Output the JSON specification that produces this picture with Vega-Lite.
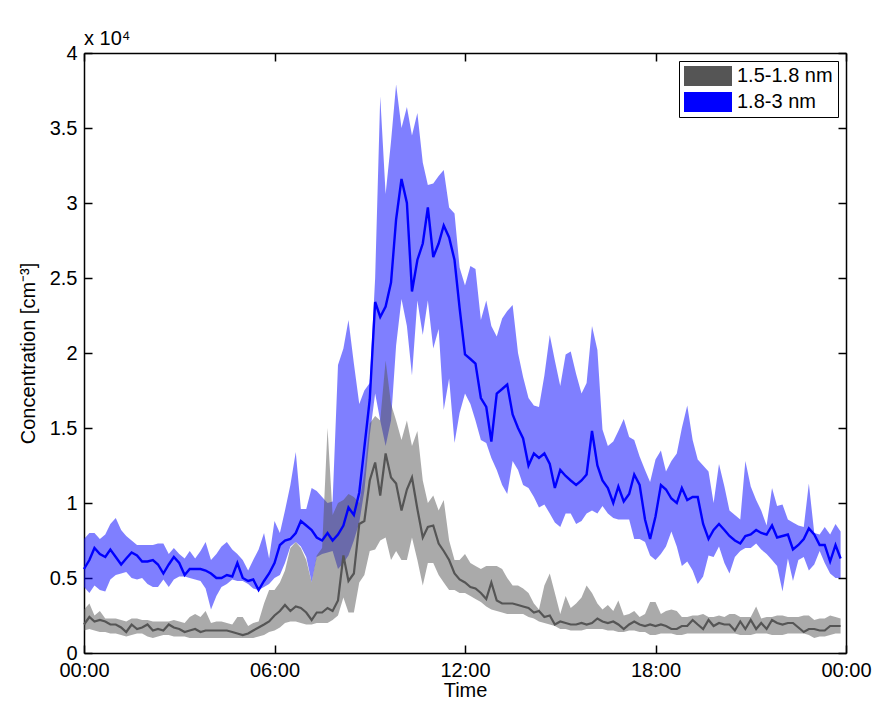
{
"$schema": "https://vega.github.io/schema/vega-lite/v6.json",
"width": 762, "height": 600,
"autosize": "none",
"padding": {"left": 84, "top": 53, "right": 29, "bottom": 49},
"background": "white",
"config": {
  "font": "Liberation Sans",
  "view": {"stroke": null},
  "axis": {"domainColor": "black", "domainWidth": 1.5, "tickColor": "black", "tickWidth": 1.5, "tickSize": -8, "labelFontSize": 20, "labelColor": "black", "labelPadding": 15, "labelFlush": false, "titleFontSize": 20, "titleFontWeight": "normal", "titleColor": "black", "grid": false},
  "legend": {"orient": "top-right", "offset": 8, "strokeColor": "black", "fillColor": "white", "padding": 5, "labelFontSize": 20, "labelColor": "black", "symbolType": "M-1,-1H3.8V1H-1Z", "symbolSize": 400, "symbolOpacity": 1, "symbolStrokeWidth": 0, "rowPadding": 6, "labelOffset": 33}
},
"title": {"text": "x 10⁴", "anchor": "start", "frame": "group", "fontSize": 20, "fontWeight": "normal", "color": "black", "offset": -6},
"data": {"values": [
{"t":0,"bm":5600,"bu":7600,"bl":4400,"gm":1900,"gu":2900,"gl":1500},
{"t":0.17,"bm":6200,"bu":8000,"bl":4000,"gm":2400,"gu":3300,"gl":1600},
{"t":0.33,"bm":7000,"bu":8000,"bl":4500,"gm":2100,"gu":2500,"gl":1500},
{"t":0.5,"bm":6600,"bu":7600,"bl":4200,"gm":2200,"gu":2800,"gl":1400},
{"t":0.67,"bm":6400,"bu":7900,"bl":4100,"gm":2100,"gu":2300,"gl":1400},
{"t":0.83,"bm":6900,"bu":8600,"bl":4900,"gm":1900,"gu":2300,"gl":1300},
{"t":1,"bm":6400,"bu":9000,"bl":5200,"gm":1900,"gu":2300,"gl":1300},
{"t":1.17,"bm":5900,"bu":8200,"bl":5300,"gm":1700,"gu":2200,"gl":1200},
{"t":1.33,"bm":6300,"bu":7800,"bl":5400,"gm":1400,"gu":2100,"gl":1100},
{"t":1.5,"bm":6700,"bu":7500,"bl":5000,"gm":1900,"gu":2300,"gl":1200},
{"t":1.67,"bm":6500,"bu":7200,"bl":4900,"gm":1600,"gu":2300,"gl":1300},
{"t":1.83,"bm":6100,"bu":7200,"bl":5000,"gm":1700,"gu":2200,"gl":1300},
{"t":2,"bm":6100,"bu":7200,"bl":4600,"gm":1900,"gu":2200,"gl":1100},
{"t":2.17,"bm":6200,"bu":7200,"bl":4400,"gm":1500,"gu":2100,"gl":1000},
{"t":2.33,"bm":5900,"bu":7300,"bl":4400,"gm":1600,"gu":2100,"gl":1100},
{"t":2.5,"bm":5300,"bu":7300,"bl":4900,"gm":1500,"gu":2100,"gl":1200},
{"t":2.67,"bm":5900,"bu":6600,"bl":4400,"gm":1900,"gu":2100,"gl":1200},
{"t":2.83,"bm":6400,"bu":7000,"bl":4900,"gm":1700,"gu":2200,"gl":1100},
{"t":3,"bm":6000,"bu":6600,"bl":5100,"gm":1600,"gu":2100,"gl":1100},
{"t":3.17,"bm":5200,"bu":6300,"bl":5100,"gm":1400,"gu":2000,"gl":1100},
{"t":3.33,"bm":5600,"bu":6800,"bl":5000,"gm":1500,"gu":2400,"gl":1000},
{"t":3.5,"bm":5600,"bu":6300,"bl":4900,"gm":1600,"gu":2600,"gl":1000},
{"t":3.67,"bm":5600,"bu":6800,"bl":4800,"gm":1400,"gu":2400,"gl":1000},
{"t":3.83,"bm":5500,"bu":7400,"bl":4300,"gm":1500,"gu":2800,"gl":1000},
{"t":4,"bm":5300,"bu":6200,"bl":2900,"gm":1500,"gu":2000,"gl":1000},
{"t":4.17,"bm":5000,"bu":6600,"bl":3800,"gm":1500,"gu":2100,"gl":1000},
{"t":4.33,"bm":5000,"bu":7100,"bl":4400,"gm":1500,"gu":2100,"gl":1000},
{"t":4.5,"bm":5200,"bu":7400,"bl":4600,"gm":1500,"gu":2000,"gl":1000},
{"t":4.67,"bm":5100,"bu":6900,"bl":4900,"gm":1400,"gu":1900,"gl":1000},
{"t":4.83,"bm":6000,"bu":6600,"bl":4800,"gm":1300,"gu":2400,"gl":1000},
{"t":5,"bm":5000,"bu":6200,"bl":4800,"gm":1200,"gu":2400,"gl":1000},
{"t":5.17,"bm":4800,"bu":5500,"bl":4600,"gm":1300,"gu":1800,"gl":1000},
{"t":5.33,"bm":4900,"bu":6200,"bl":4300,"gm":1500,"gu":2000,"gl":1000},
{"t":5.5,"bm":4200,"bu":6900,"bl":4200,"gm":1700,"gu":2100,"gl":1100},
{"t":5.67,"bm":4800,"bu":8000,"bl":4400,"gm":1900,"gu":3300,"gl":1200},
{"t":5.83,"bm":5300,"bu":6300,"bl":4600,"gm":2100,"gu":4200,"gl":1400},
{"t":6,"bm":6000,"bu":8800,"bl":5000,"gm":2500,"gu":4200,"gl":1500},
{"t":6.17,"bm":7200,"bu":8000,"bl":5200,"gm":2800,"gu":4700,"gl":1700},
{"t":6.33,"bm":7500,"bu":9500,"bl":6000,"gm":3200,"gu":5500,"gl":2000},
{"t":6.5,"bm":7600,"bu":11200,"bl":7100,"gm":2800,"gu":7000,"gl":2100},
{"t":6.67,"bm":8000,"bu":13400,"bl":7400,"gm":3100,"gu":7400,"gl":2100},
{"t":6.83,"bm":8800,"bu":9600,"bl":7100,"gm":3000,"gu":7000,"gl":2000},
{"t":7,"bm":8500,"bu":9600,"bl":6400,"gm":2700,"gu":6200,"gl":1900},
{"t":7.17,"bm":8200,"bu":11000,"bl":4700,"gm":2200,"gu":4700,"gl":1900},
{"t":7.33,"bm":7700,"bu":10800,"bl":6400,"gm":2700,"gu":6500,"gl":2000},
{"t":7.5,"bm":7500,"bu":10400,"bl":6600,"gm":2700,"gu":7000,"gl":2000},
{"t":7.67,"bm":8000,"bu":10000,"bl":6700,"gm":3000,"gu":15000,"gl":2000},
{"t":7.83,"bm":7500,"bu":10100,"bl":6800,"gm":2800,"gu":9200,"gl":2200},
{"t":8,"bm":7900,"bu":19200,"bl":5600,"gm":3500,"gu":10000,"gl":2500},
{"t":8.17,"bm":8500,"bu":20300,"bl":6000,"gm":6500,"gu":10200,"gl":3700},
{"t":8.33,"bm":9700,"bu":22200,"bl":6500,"gm":4800,"gu":10600,"gl":2700},
{"t":8.5,"bm":9200,"bu":19300,"bl":7500,"gm":5300,"gu":10400,"gl":2700},
{"t":8.67,"bm":10700,"bu":16600,"bl":8700,"gm":8600,"gu":10000,"gl":4700},
{"t":8.83,"bm":13700,"bu":17500,"bl":10800,"gm":8800,"gu":12000,"gl":5200},
{"t":9,"bm":16900,"bu":18000,"bl":14500,"gm":11500,"gu":15300,"gl":6800},
{"t":9.17,"bm":23400,"bu":25000,"bl":17300,"gm":12700,"gu":15800,"gl":6900},
{"t":9.33,"bm":22400,"bu":37100,"bl":15500,"gm":10500,"gu":15500,"gl":7500},
{"t":9.5,"bm":23100,"bu":30600,"bl":13800,"gm":13300,"gu":19500,"gl":7700},
{"t":9.67,"bm":24700,"bu":34100,"bl":15500,"gm":11700,"gu":16600,"gl":6200},
{"t":9.83,"bm":28900,"bu":37900,"bl":20500,"gm":11300,"gu":15500,"gl":6800},
{"t":10,"bm":31600,"bu":35000,"bl":23600,"gm":9500,"gu":14200,"gl":6200},
{"t":10.17,"bm":30000,"bu":36400,"bl":21800,"gm":10900,"gu":15500,"gl":6200},
{"t":10.33,"bm":24100,"bu":34500,"bl":18500,"gm":11700,"gu":13800,"gl":7700},
{"t":10.5,"bm":26200,"bu":36000,"bl":23500,"gm":9600,"gu":14800,"gl":6200},
{"t":10.67,"bm":27300,"bu":32700,"bl":21200,"gm":7700,"gu":11500,"gl":4500},
{"t":10.83,"bm":29700,"bu":31200,"bl":23500,"gm":8400,"gu":10000,"gl":6000},
{"t":11,"bm":26400,"bu":31300,"bl":20300,"gm":8500,"gu":10500,"gl":6000},
{"t":11.17,"bm":27300,"bu":31800,"bl":21600,"gm":7300,"gu":9500,"gl":5200},
{"t":11.33,"bm":28500,"bu":32200,"bl":16200,"gm":6800,"gu":10200,"gl":4700},
{"t":11.5,"bm":27700,"bu":29700,"bl":18300,"gm":6200,"gu":7500,"gl":4200},
{"t":11.67,"bm":26200,"bu":29300,"bl":14000,"gm":5300,"gu":6200,"gl":4200},
{"t":11.83,"bm":23000,"bu":25700,"bl":16000,"gm":4900,"gu":6200,"gl":4000},
{"t":12,"bm":19900,"bu":24500,"bl":17300,"gm":4700,"gu":6600,"gl":4000},
{"t":12.17,"bm":19600,"bu":25800,"bl":16600,"gm":4400,"gu":6000,"gl":3800},
{"t":12.33,"bm":19300,"bu":25600,"bl":15500,"gm":4300,"gu":5800,"gl":3600},
{"t":12.5,"bm":17000,"bu":22200,"bl":14200,"gm":4000,"gu":5600,"gl":3400},
{"t":12.67,"bm":16400,"bu":23500,"bl":14000,"gm":3600,"gu":5800,"gl":3100},
{"t":12.83,"bm":14100,"bu":21800,"bl":13000,"gm":4700,"gu":5800,"gl":2900},
{"t":13,"bm":17300,"bu":21100,"bl":12200,"gm":3500,"gu":5800,"gl":2800},
{"t":13.17,"bm":17600,"bu":22300,"bl":11200,"gm":3300,"gu":5600,"gl":2700},
{"t":13.33,"bm":17900,"bu":22800,"bl":10600,"gm":3300,"gu":5000,"gl":2600},
{"t":13.5,"bm":15900,"bu":23200,"bl":12800,"gm":3300,"gu":4500,"gl":2600},
{"t":13.67,"bm":15000,"bu":20000,"bl":12200,"gm":3200,"gu":4500,"gl":2600},
{"t":13.83,"bm":14300,"bu":18400,"bl":11200,"gm":3100,"gu":4300,"gl":2600},
{"t":14,"bm":12500,"bu":17000,"bl":11000,"gm":3000,"gu":4000,"gl":2400},
{"t":14.17,"bm":13300,"bu":16500,"bl":10400,"gm":2700,"gu":3300,"gl":2300},
{"t":14.33,"bm":13000,"bu":16400,"bl":9700,"gm":2800,"gu":2900,"gl":2100},
{"t":14.5,"bm":13300,"bu":18500,"bl":9900,"gm":2400,"gu":4500,"gl":2000},
{"t":14.67,"bm":12600,"bu":21200,"bl":9300,"gm":2500,"gu":5300,"gl":1900},
{"t":14.83,"bm":11000,"bu":19500,"bl":8700,"gm":1900,"gu":4000,"gl":1800},
{"t":15,"bm":12200,"bu":17800,"bl":8400,"gm":2100,"gu":2600,"gl":1600},
{"t":15.17,"bm":11800,"bu":19900,"bl":9300,"gm":2000,"gu":3800,"gl":1600},
{"t":15.33,"bm":11500,"bu":20100,"bl":9300,"gm":1900,"gu":3000,"gl":1500},
{"t":15.5,"bm":11200,"bu":18600,"bl":8600,"gm":1900,"gu":3300,"gl":1500},
{"t":15.67,"bm":11500,"bu":17300,"bl":8800,"gm":2000,"gu":3700,"gl":1500},
{"t":15.83,"bm":11900,"bu":18000,"bl":9300,"gm":1900,"gu":4500,"gl":1600},
{"t":16,"bm":14800,"bu":21800,"bl":9500,"gm":2000,"gu":4000,"gl":1600},
{"t":16.17,"bm":12500,"bu":20200,"bl":9300,"gm":2300,"gu":3300,"gl":1600},
{"t":16.33,"bm":11500,"bu":14900,"bl":9800,"gm":2100,"gu":2900,"gl":1600},
{"t":16.5,"bm":11000,"bu":13800,"bl":9300,"gm":2000,"gu":3200,"gl":1500},
{"t":16.67,"bm":10000,"bu":14100,"bl":9000,"gm":2100,"gu":2800,"gl":1500},
{"t":16.83,"bm":11100,"bu":14800,"bl":8900,"gm":1900,"gu":3500,"gl":1400},
{"t":17,"bm":10100,"bu":15600,"bl":8900,"gm":1600,"gu":2500,"gl":1400},
{"t":17.17,"bm":10600,"bu":14400,"bl":8900,"gm":1900,"gu":2600,"gl":1500},
{"t":17.33,"bm":11900,"bu":14200,"bl":7600,"gm":2100,"gu":2800,"gl":1500},
{"t":17.5,"bm":11200,"bu":13100,"bl":7600,"gm":1900,"gu":2400,"gl":1400},
{"t":17.67,"bm":8900,"bu":12200,"bl":7400,"gm":1800,"gu":2600,"gl":1400},
{"t":17.83,"bm":7600,"bu":11400,"bl":6500,"gm":1900,"gu":3400,"gl":1200},
{"t":18,"bm":9100,"bu":12900,"bl":6200,"gm":1800,"gu":3400,"gl":1200},
{"t":18.17,"bm":11200,"bu":13500,"bl":6600,"gm":1900,"gu":2600,"gl":1300},
{"t":18.33,"bm":10900,"bu":12100,"bl":7100,"gm":1800,"gu":2800,"gl":1300},
{"t":18.5,"bm":10300,"bu":12800,"bl":8100,"gm":1600,"gu":2900,"gl":1300},
{"t":18.67,"bm":10000,"bu":13300,"bl":7100,"gm":1600,"gu":2800,"gl":1200},
{"t":18.83,"bm":11000,"bu":15000,"bl":5800,"gm":1800,"gu":2400,"gl":1200},
{"t":19,"bm":10200,"bu":16500,"bl":6100,"gm":1800,"gu":2400,"gl":1300},
{"t":19.17,"bm":10400,"bu":14200,"bl":5500,"gm":2200,"gu":2500,"gl":1300},
{"t":19.33,"bm":10400,"bu":12900,"bl":4600,"gm":1900,"gu":2500,"gl":1300},
{"t":19.5,"bm":8600,"bu":12500,"bl":5100,"gm":1600,"gu":2600,"gl":1300},
{"t":19.67,"bm":7600,"bu":12100,"bl":6500,"gm":2200,"gu":2400,"gl":1300},
{"t":19.83,"bm":8200,"bu":10000,"bl":6400,"gm":1800,"gu":2400,"gl":1300},
{"t":20,"bm":8600,"bu":12600,"bl":7100,"gm":2000,"gu":2500,"gl":1300},
{"t":20.17,"bm":8200,"bu":11100,"bl":6000,"gm":1900,"gu":2400,"gl":1300},
{"t":20.33,"bm":7800,"bu":9500,"bl":5300,"gm":1900,"gu":2600,"gl":1300},
{"t":20.5,"bm":7500,"bu":9200,"bl":6400,"gm":1500,"gu":2600,"gl":1300},
{"t":20.67,"bm":7300,"bu":8900,"bl":6800,"gm":2100,"gu":2400,"gl":1200},
{"t":20.83,"bm":7800,"bu":12800,"bl":7000,"gm":1600,"gu":2400,"gl":1200},
{"t":21,"bm":7900,"bu":11100,"bl":7000,"gm":2200,"gu":2400,"gl":1200},
{"t":21.17,"bm":8200,"bu":10200,"bl":7300,"gm":1600,"gu":3100,"gl":1300},
{"t":21.33,"bm":8000,"bu":9500,"bl":6900,"gm":2000,"gu":2300,"gl":1300},
{"t":21.5,"bm":7900,"bu":8500,"bl":6600,"gm":1600,"gu":2400,"gl":1300},
{"t":21.67,"bm":8500,"bu":11000,"bl":6200,"gm":2200,"gu":2400,"gl":1200},
{"t":21.83,"bm":7700,"bu":9800,"bl":5800,"gm":2000,"gu":2500,"gl":1200},
{"t":22,"bm":7800,"bu":9900,"bl":4100,"gm":1900,"gu":2500,"gl":1200},
{"t":22.17,"bm":7900,"bu":8900,"bl":6300,"gm":2000,"gu":2400,"gl":1300},
{"t":22.33,"bm":6900,"bu":8700,"bl":4800,"gm":2000,"gu":2400,"gl":1300},
{"t":22.5,"bm":7200,"bu":8500,"bl":6200,"gm":1700,"gu":2400,"gl":1300},
{"t":22.67,"bm":7600,"bu":8400,"bl":6400,"gm":1400,"gu":2500,"gl":1300},
{"t":22.83,"bm":8300,"bu":11300,"bl":5500,"gm":1600,"gu":2500,"gl":1200},
{"t":23,"bm":7900,"bu":8000,"bl":5900,"gm":1600,"gu":2200,"gl":1000},
{"t":23.17,"bm":7200,"bu":7900,"bl":6800,"gm":1500,"gu":2300,"gl":1100},
{"t":23.33,"bm":7200,"bu":8400,"bl":6000,"gm":1500,"gu":2300,"gl":1100},
{"t":23.5,"bm":6100,"bu":7900,"bl":5300,"gm":1800,"gu":2500,"gl":1200},
{"t":23.67,"bm":7200,"bu":8600,"bl":5000,"gm":1800,"gu":2400,"gl":1300},
{"t":23.83,"bm":6300,"bu":8100,"bl":5000,"gm":1800,"gu":2300,"gl":1300}
]},
"resolve": {"axis": {"x": "independent", "y": "independent"}},
"layer": [
  {"mark": {"type": "area", "opacity": 0.5},
   "encoding": {
     "x": {"field": "t", "type": "quantitative", "scale": {"domain": [0, 24], "nice": false},
           "axis": {"orient": "bottom", "values": [0, 6, 12, 18, 24], "labelExpr": "datum.value==24?'00:00':(datum.value<10?'0':'')+datum.value+':00'", "title": "Time", "titlePadding": 0}},
     "y": {"field": "bl", "type": "quantitative", "scale": {"domain": [0, 40000], "nice": false},
           "axis": {"orient": "left", "values": [0, 5000, 10000, 15000, 20000, 25000, 30000, 35000, 40000], "labelExpr": "datum.value/10000", "title": "Concentration [cm⁻³]", "titlePadding": 11}},
     "y2": {"field": "bu"},
     "color": {"datum": "1.8-3 nm", "type": "nominal", "scale": {"domain": ["1.5-1.8 nm", "1.8-3 nm"], "range": ["#555555", "#0000ff"]}, "legend": {"title": null}}
   }},
  {"mark": {"type": "area", "opacity": 0.5},
   "encoding": {
     "x": {"field": "t", "type": "quantitative", "axis": {"orient": "top", "values": [0, 6, 12, 18, 24], "labels": false, "title": null}},
     "y": {"field": "gl", "type": "quantitative", "axis": {"orient": "right", "values": [0, 5000, 10000, 15000, 20000, 25000, 30000, 35000, 40000], "labels": false, "title": null}},
     "y2": {"field": "gu"},
     "color": {"datum": "1.5-1.8 nm", "type": "nominal", "legend": {"title": null}}
   }},
  {"mark": {"type": "line", "color": "#555555", "strokeWidth": 2.2},
   "encoding": {
     "x": {"field": "t", "type": "quantitative", "axis": null},
     "y": {"field": "gm", "type": "quantitative", "axis": null}
   }},
  {"mark": {"type": "line", "color": "#0000ff", "strokeWidth": 2.4},
   "encoding": {
     "x": {"field": "t", "type": "quantitative", "axis": null},
     "y": {"field": "bm", "type": "quantitative", "axis": null}
   }}
]
}
